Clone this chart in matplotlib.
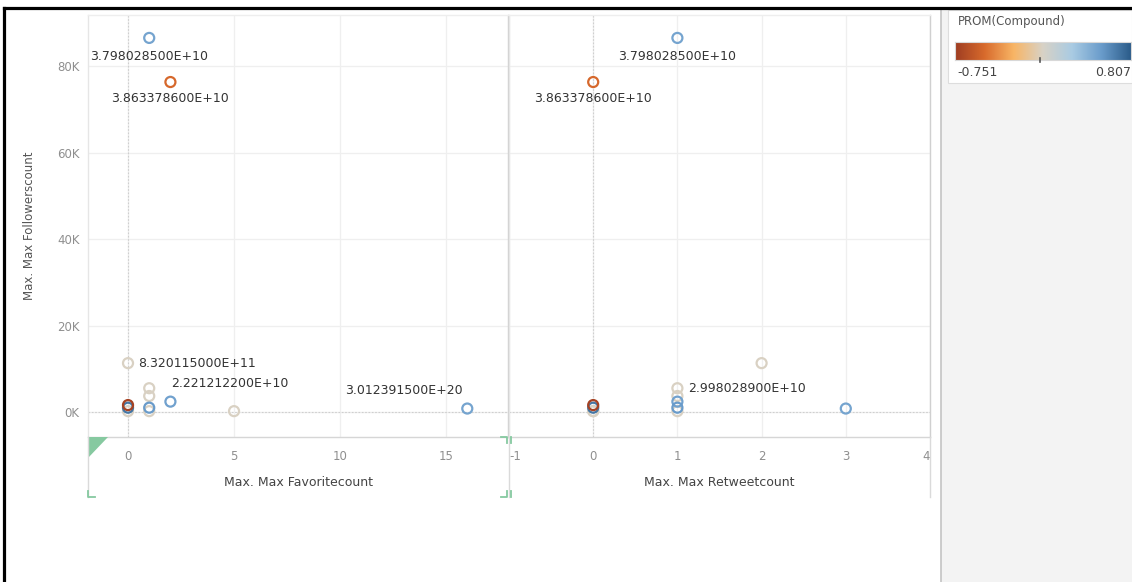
import numpy as np
import matplotlib
matplotlib.use("Agg")
import matplotlib.pyplot as plt
from matplotlib.colors import LinearSegmentedColormap, Normalize
from matplotlib.lines import Line2D
from matplotlib.patches import Rectangle, Polygon

# data (one entry per user)
favorite = [1, 2, 0, 1, 1, 2, 16, 0, 0, 0, 1, 1, 5]
retweet = [1, 0, 2, 1, 1, 1, 3, 0, 0, 0, 1, 1, 0]
followers = [86500, 76300, 11300, 5500, 3700, 2400, 800, 1600, 1000, 200, 1000, 200, 200]
compound = [0.5, -0.5, 0.02, 0.02, 0.02, 0.52, 0.5, -0.72, 0.7, 0.02, 0.55, 0.02, 0.02]
labels_fav = ["3.798028500E+10", "3.863378600E+10", "8.320115000E+11", "", "",
              "2.221212200E+10", "3.012391500E+20", "", "", "", "", "", ""]
labels_rt = ["3.798028500E+10", "3.863378600E+10", "", "2.998028900E+10", "",
             "", "", "", "", "", "", "", ""]
y_ticks = [0, 20000, 40000, 60000, 80000]
y_ticklabels = ["0K", "20K", "40K", "60K", "80K"]
c_min, c_max = -0.751, 0.807

W, H = 1132, 582


def fx(x):
    return x / W


def fy(y):
    return 1 - y / H


cmap = LinearSegmentedColormap.from_list(
    "orbl", ["#9e3d22", "#d86a2c", "#f8b565", "#d8d2c6", "#a9cbe3", "#6a9ccb", "#2b5c8a"])
norm = Normalize(c_min, c_max)

fig = plt.figure(figsize=(W / 100, H / 100), dpi=100)
fig.patch.set_facecolor("white")

# grey side panel + legend box
fig.patches.append(Rectangle((fx(941), 0), 1 - fx(941), fy(9), transform=fig.transFigure,
                             facecolor="#f3f3f3", edgecolor="none", zorder=0))
fig.lines.append(Line2D([fx(941), fx(941)], [0, fy(9)], transform=fig.transFigure,
                        color="#c4c4c4", lw=1.2))
fig.patches.append(Rectangle((fx(948), fy(83)), 1 - fx(948), fy(10) - fy(83),
                             transform=fig.transFigure, facecolor="white",
                             edgecolor="#dddddd", lw=0.8, zorder=1))

fs_tick = 8.5
tick_col = "#8f8f8f"

axes = []
specs = [
    (88, 508, (-1.887, 17.92), [0, 5, 10, 15], favorite, "Max. Max Favoritecount"),
    (509, 930, (-1.0, 4.0), [-1, 0, 1, 2, 3, 4], retweet, "Max. Max Retweetcount"),
]
for i, (x0, x1, xlim, xticks, xs, title) in enumerate(specs):
    ax = fig.add_axes([fx(x0), fy(437), fx(x1) - fx(x0), fy(15) - fy(437)])
    ax.set_xlim(*xlim)
    ax.set_ylim(-5780, 91800)
    ax.set_xticks(xticks)
    ax.set_yticks(y_ticks)
    ax.grid(True, color="#efefef", lw=0.9)
    ax.set_axisbelow(True)
    ax.axhline(0, color="#cfcfcf", lw=0.8, ls=(0, (1.5, 1.5)), zorder=1)
    ax.axvline(0, color="#cfcfcf", lw=0.8, ls=(0, (1.5, 1.5)), zorder=1)
    ax.tick_params(length=0, labelsize=fs_tick, labelcolor=tick_col, pad=9)
    ax.tick_params(axis="y", pad=6)
    ax.set_xticklabels([str(t) for t in xticks])
    if i == 0:
        ax.set_yticklabels(y_ticklabels)
    else:
        ax.set_yticklabels([])
        tl = ax.get_xticklabels()
        tl[0].set_ha("left")
        tl[-1].set_ha("right")
    for side, col in [("left", "#e6e6e6"), ("top", "#eeeeee"),
                      ("bottom", "#d6d6d6"), ("right", "#d0d0d0")]:
        ax.spines[side].set_color(col)
        ax.spines[side].set_linewidth(1.0)

    order = np.argsort(np.abs(compound))
    ax.scatter(np.array(xs)[order], np.array(followers)[order], s=52,
               facecolors="none", edgecolors=cmap(norm(np.array(compound)[order])),
               linewidths=1.6, zorder=3, clip_on=False)

    fig.text(fx((x0 + x1) / 2), fy(482), title, ha="center", va="center",
             fontsize=9, color="#444444")
    axes.append(ax)

# label offsets in points (placement only)
offs_fav = {0: (0, -13.7, "center"), 1: (0, -11.5, "center"), 2: (7.2, 0, "left"),
            5: (0.7, 13, "left"), 6: (-3, 13, "right")}
offs_rt = {0: (0, -13.7, "center"), 1: (0, -11.5, "center"), 3: (8, 0, "left")}
for ax, xs, labs, offs in [(axes[0], favorite, labels_fav, offs_fav),
                           (axes[1], retweet, labels_rt, offs_rt)]:
    for k, (dx, dy, ha) in offs.items():
        ax.annotate(labs[k], (xs[k], followers[k]), xytext=(dx, dy),
                    textcoords="offset points", ha=ha, va="center",
                    fontsize=9, color="#333333", zorder=4)

fig.text(fx(30), fy(226), "Max. Max Followerscount", rotation=90, ha="center",
         va="center", fontsize=8.5, color="#555555")

# lines below plot area (axis strip borders)
for x, y0, y1 in [(88, 437, 497), (508.5, 437, 497), (930, 437, 497)]:
    fig.lines.append(Line2D([fx(x), fx(x)], [fy(y0), fy(y1)], transform=fig.transFigure,
                            color="#dadada", lw=1.0))

# tableau selection marks
green = "#86c9a0"
fig.patches.append(Polygon([(fx(88), fy(437)), (fx(108), fy(437)), (fx(88), fy(458))],
                           closed=True, transform=fig.transFigure, facecolor=green,
                           edgecolor="none"))
for pts in [[(88, 491), (88, 497), (95, 497)], [(501, 437), (507, 437), (507, 443)],
            [(501, 497), (507, 497), (507, 491)], [(511, 443), (511, 437)],
            [(511, 491), (511, 497)]]:
    fig.lines.append(Line2D([fx(p[0]) for p in pts], [fy(p[1]) for p in pts],
                            transform=fig.transFigure, color=green, lw=1.3))

# colour legend
fig.text(fx(958), fy(21), "PROM(Compound)", ha="left", va="center", fontsize=8.5,
         color="#555555")
cax = fig.add_axes([fx(955), fy(60), fx(1131) - fx(955), fy(42) - fy(60)])
cax.set_zorder(5)
grad = np.linspace(c_min, c_max, 256).reshape(1, -1)
cax.imshow(grad, aspect="auto", cmap=cmap, norm=norm, extent=[c_min, c_max, 0, 1])
cax.set_xticks([])
cax.set_yticks([])
for s in cax.spines.values():
    s.set_color("#d8d8d8")
    s.set_linewidth(0.8)
fig.lines.append(Line2D([fx(1040), fx(1040)], [fy(58), fy(62)], transform=fig.transFigure,
                        color="#555555", lw=1.2, zorder=6))
fig.text(fx(957), fy(72), f"{c_min:.3f}", ha="left", va="center", fontsize=9,
         color="#444444", zorder=6)
fig.text(fx(1131), fy(72), f"{c_max:.3f}", ha="right", va="center", fontsize=9,
         color="#444444", zorder=6)

# black frame at top and left
fig.lines.append(Line2D([fx(3.5), 1], [fy(8), fy(8)], transform=fig.transFigure,
                        color="black", lw=2.3, zorder=7))
fig.lines.append(Line2D([fx(3.5), fx(3.5)], [0, fy(8)], transform=fig.transFigure,
                        color="black", lw=2.3, zorder=7))

fig.savefig("out.png", dpi=100)
